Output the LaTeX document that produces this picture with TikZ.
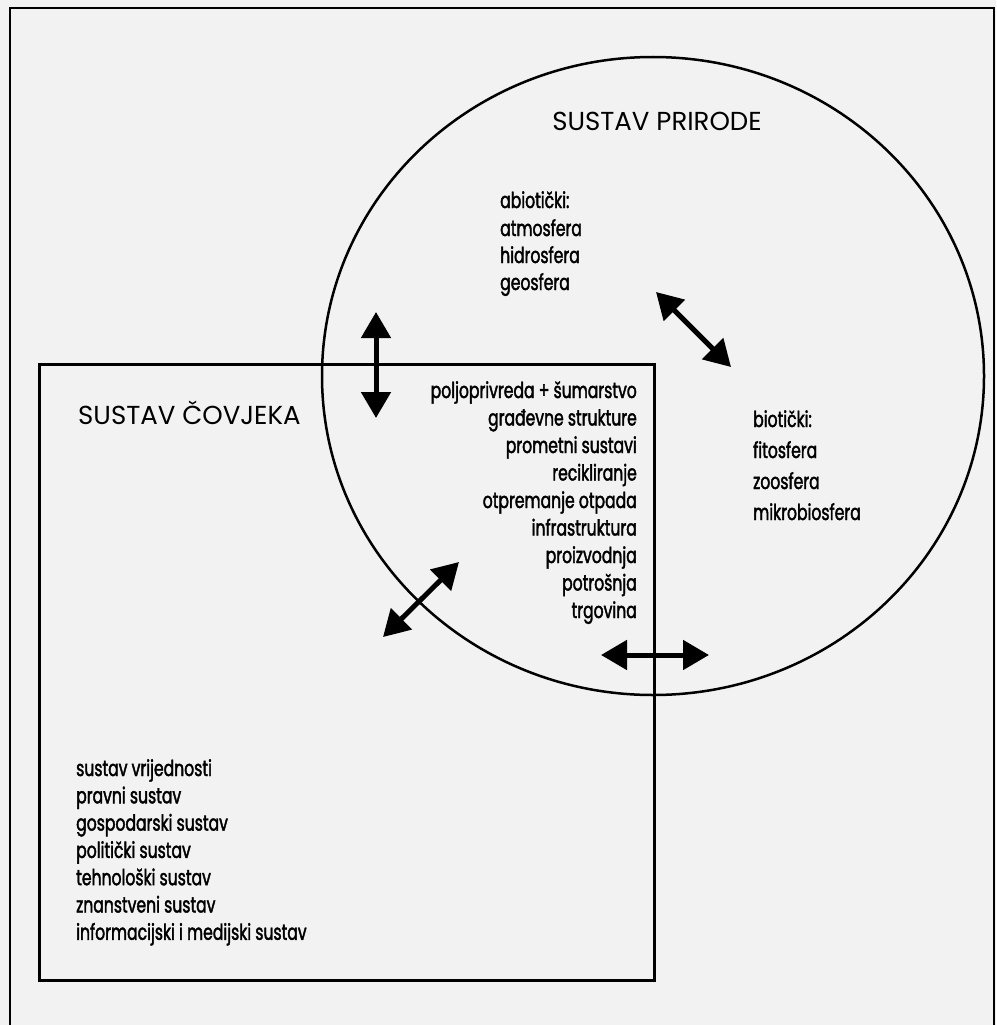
\documentclass[tikz,border=0pt]{standalone}
\usepackage{fontspec}
\setmainfont{Poppins}
\newfontfamily\condfont{Poppins}[FakeStretch=0.71, FakeBold=1.8]
\usetikzlibrary{arrows.meta}
\tikzset{
  listtext/.style={font=\condfont\fontsize{22}{22}\selectfont, inner sep=0pt},
  titletext/.style={font=\fontsize{26}{26}\selectfont, inner sep=0pt},
  bigarrow/.style={black, line width=5pt, {Triangle[width=29pt,length=26pt]}-{Triangle[width=29pt,length=26pt]}}
}

\begin{document}
\begin{tikzpicture}[x=1pt, y=-1pt]
\useasboundingbox[fill=black!5] (0,0) rectangle (996,1025);
\draw[black, line width=2pt](10,1030)--(10,8)--(994,8)--(994,1030);
\draw[black, line width=2.5pt](653,376) ellipse [x radius=331pt, y radius=319pt];
\draw[black, line width=3pt](39,364) rectangle (654,980);

\node[titletext, anchor=base] (priroda) at (657,130) {SUSTAV PRIRODE};
\node[titletext, anchor=base west] (covjek) at (78,424) {SUSTAV ČOVJEKA};

\node[listtext, anchor=base west] (abio) at (500,208) {abiotički:};
\foreach \t [count=\i] in {atmosfera, hidrosfera, geosfera}{
	\node[listtext, anchor=base west] (abio\i) at (500,{236+27*(\i-1)}) {\t};
}
\node[listtext, anchor=base west] (bio) at (753,427) {biotički:};
\foreach \t [count=\i] in {fitosfera, zoosfera, mikrobiosfera}{
	\node[listtext, anchor=base west] (bio\i) at (753,{458+31*(\i-1)}) {\t};
}
\foreach \t [count=\i] in {poljoprivreda + šumarstvo, građevne strukture, prometni sustavi, recikliranje, otpremanje otpada, infrastruktura, proizvodnja, potrošnja, trgovina}{
	\node[listtext, anchor=base east] (rad\i) at (637,{398+27.5*(\i-1)}) {\t};
}
\foreach \t [count=\i] in {sustav vrijednosti, pravni sustav, gospodarski sustav, politički sustav, tehnološki sustav, znanstveni sustav, informacijski i medijski sustav}{
	\node[listtext, anchor=base west] (drus\i) at (76,{776+27.3*(\i-1)}) {\t};
}

\coordinate (v1) at (376,312);
\coordinate (v2) at (376,418);
\coordinate (d1) at (656,292);
\coordinate (d2) at (731,367);
\coordinate (e1) at (459,562);
\coordinate (e2) at (383,637);
\coordinate (h1) at (601,655);
\coordinate (h2) at (709,655);
\draw[bigarrow](v1)--(v2);
\draw[bigarrow](d1)--(d2);
\draw[bigarrow](e1)--(e2);
\draw[bigarrow](h1)--(h2);
\end{tikzpicture}
\end{document}
